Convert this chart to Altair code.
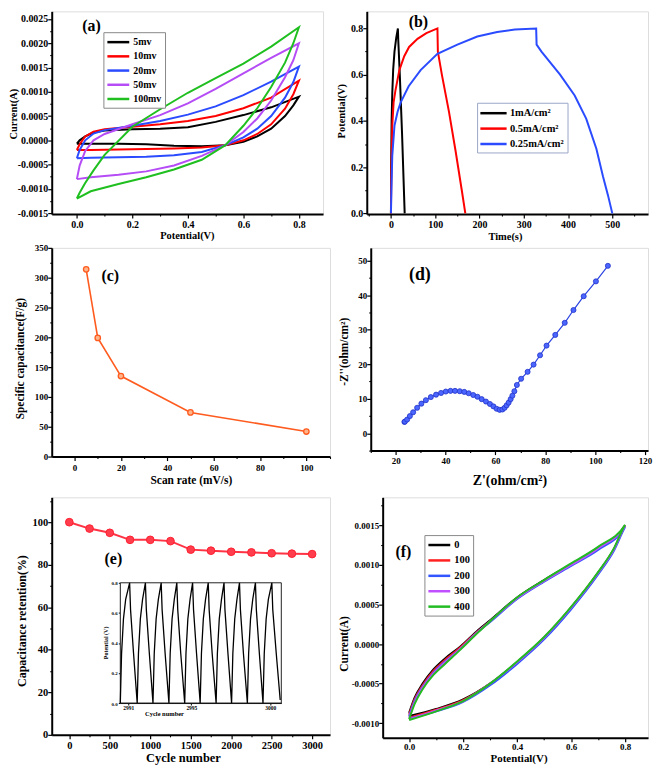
import altair as alt
import pandas as pd

FONT = "Liberation Serif"

# ---------------- (a) CV at different scan rates ----------------
a_rates = ["5mv", "10mv", "20mv", "50mv", "100mv"]
a_colors = ["#000000", "#ff0000", "#2a4bff", "#b54cf5", "#1fbf1f"]
a_v_fwd = [0.0, 0.01, 0.03, 0.06, 0.1, 0.2, 0.3, 0.4, 0.5, 0.6, 0.7, 0.8]
a_v_rev = [0.8, 0.78, 0.75, 0.7, 0.65, 0.6, 0.535, 0.45, 0.35, 0.25, 0.15, 0.05, 0.0]
a_i_fwd = {
    "5mv":   [-0.00007, 0.0, 0.00008, 0.00016, 0.0002, 0.00023, 0.00024, 0.00027, 0.00038, 0.00052, 0.00068, 0.0009],
    "10mv":  [-0.0002, -0.00008, 0.00008, 0.00018, 0.00023, 0.00028, 0.00033, 0.0004, 0.0005, 0.00066, 0.00088, 0.00123],
    "20mv":  [-0.00037, -0.0002, 0.0, 0.00014, 0.00021, 0.0003, 0.0004, 0.00053, 0.0007, 0.00093, 0.00121, 0.00152],
    "50mv":  [-0.0008, -0.00052, -0.00022, 0.0, 0.00013, 0.00033, 0.00052, 0.00076, 0.00106, 0.00138, 0.0017, 0.002],
    "100mv": [-0.0012, -0.00108, -0.00088, -0.00062, -0.0003, 0.00028, 0.00064, 0.00098, 0.00128, 0.00158, 0.00193, 0.00233],
}
a_i_rev = {
    "5mv":   [0.0009, 0.00072, 0.0005, 0.00024, 0.00008, -0.00003, -0.0001, -0.00012, -0.00011, -0.00008, -0.00007, -0.00007, -0.00007],
    "10mv":  [0.00123, 0.00095, 0.00065, 0.00033, 0.00013, 0.0, -0.0001, -0.00015, -0.00017, -0.00018, -0.00019, -0.0002, -0.0002],
    "20mv":  [0.00152, 0.0012, 0.00088, 0.0005, 0.00024, 0.00006, -0.0001, -0.00024, -0.00031, -0.00034, -0.00035, -0.00036, -0.00037],
    "50mv":  [0.002, 0.00165, 0.0013, 0.00082, 0.00045, 0.00017, -0.0001, -0.00032, -0.00052, -0.00064, -0.00071, -0.00076, -0.0008],
    "100mv": [0.00233, 0.002, 0.0016, 0.0011, 0.00066, 0.0003, -0.0001, -0.0004, -0.0006, -0.00076, -0.0009, -0.00105, -0.0012],
}

# ---------------- (b) GCD ----------------
b_names = ["1mA/cm²", "0.5mA/cm²", "0.25mA/cm²"]
b_colors = ["#000000", "#ff0000", "#2a4bff"]
b_t = {
    "1mA/cm²": [0, 0.5, 1.5, 3, 5, 8, 12, 15.7, 16.5, 20, 25, 31],
    "0.5mA/cm²": [0, 1, 3, 6, 10, 14, 19, 30, 41, 60, 80, 105, 106, 115, 131, 146, 160, 168],
    "0.25mA/cm²": [0, 1, 3, 8, 15, 22, 40, 67, 105, 150, 195, 240, 280, 328, 329, 340, 382, 415,
                   441, 464, 479, 490, 500],
}
b_v = {
    "1mA/cm²": [0, 0.2, 0.4, 0.52, 0.62, 0.7, 0.76, 0.8, 0.75, 0.6, 0.35, 0.0],
    "0.5mA/cm²": [0, 0.2, 0.38, 0.48, 0.53, 0.57, 0.62, 0.68, 0.72, 0.755, 0.78, 0.8, 0.7, 0.6, 0.44,
                  0.27, 0.1, 0.0],
    "0.25mA/cm²": [0, 0.1, 0.25, 0.38, 0.44, 0.48, 0.55, 0.62, 0.69, 0.73, 0.765, 0.785, 0.795, 0.8,
                   0.73, 0.7, 0.6, 0.51, 0.41, 0.28, 0.16, 0.08, 0.0],
}

# ---------------- (c) specific capacitance ----------------
c_rate = [5, 10, 20, 50, 100]
c_cap = [314, 199, 135, 74, 42]

# ---------------- (d) Nyquist ----------------
d_zr = [23.5, 23.7, 24.6, 25.7, 27.0, 28.6, 30.3, 32.1, 34.1, 36.2, 38.2, 40.1, 42.0, 43.8, 45.7,
        47.5, 49.3, 51.1, 52.8, 54.5, 56.2, 57.8, 59.2, 60.5, 61.7, 62.8, 63.7, 64.5, 65.3, 66.1,
        66.8, 67.6, 68.6, 70.3, 72.9, 75.3, 77.9, 80.5, 84.0, 87.8, 91.3, 95.4, 100.3, 105.1]
d_zi = [3.3, 3.4, 4.0, 5.0, 6.1, 7.4, 8.6, 9.6, 10.5, 11.2, 11.7, 12.1, 12.3, 12.3, 12.2,
        12.0, 11.6, 11.1, 10.6, 9.9, 9.2, 8.5, 7.8, 7.1, 6.8, 6.9, 7.4, 8.1, 8.9, 9.9,
        10.9, 12.2, 14.0, 15.8, 17.8, 19.9, 22.6, 25.4, 28.5, 32.0, 35.7, 39.7, 44.0, 48.5]

# ---------------- (e) cycling ----------------
e_cycle = [0, 250, 500, 750, 1000, 1250, 1500, 1750, 2000, 2250, 2500, 2750, 3000]
e_ret = [100, 97.0, 95.0, 91.7, 91.7, 91.1, 87.1, 86.6, 86.1, 85.8, 85.4, 85.2, 85.0]
inset_t = [2990.50, 2990.58, 2990.70, 2990.84, 2991.09, 2991.15, 2991.34, 2991.57,
           2991.65, 2991.77, 2991.91, 2992.09, 2992.15, 2992.34, 2992.57,
           2992.65, 2992.77, 2992.91, 2993.09, 2993.15, 2993.34, 2993.58,
           2993.66, 2993.78, 2993.92, 2994.08, 2994.14, 2994.33, 2994.58,
           2994.66, 2994.78, 2994.92, 2995.08, 2995.14, 2995.33, 2995.56,
           2995.64, 2995.76, 2995.90, 2996.07, 2996.13, 2996.32, 2996.57,
           2996.65, 2996.77, 2996.91, 2997.07, 2997.13, 2997.32, 2997.55,
           2997.63, 2997.75, 2997.89, 2998.05, 2998.11, 2998.30, 2998.55,
           2998.63, 2998.75, 2998.89, 2999.06, 2999.12, 2999.31, 2999.54,
           2999.62, 2999.74, 2999.88, 3000.10, 3000.16, 3000.38, 3000.63]
inset_v = [0.0, 0.33, 0.56, 0.69, 0.8, 0.62, 0.33, 0.0,
           0.33, 0.56, 0.69, 0.8, 0.62, 0.33, 0.0,
           0.33, 0.56, 0.69, 0.8, 0.62, 0.33, 0.0,
           0.33, 0.56, 0.69, 0.8, 0.62, 0.33, 0.0,
           0.33, 0.56, 0.69, 0.8, 0.62, 0.33, 0.0,
           0.33, 0.56, 0.69, 0.8, 0.62, 0.33, 0.0,
           0.33, 0.56, 0.69, 0.8, 0.62, 0.33, 0.0,
           0.33, 0.56, 0.69, 0.8, 0.62, 0.33, 0.0,
           0.33, 0.56, 0.69, 0.8, 0.62, 0.33, 0.0,
           0.33, 0.56, 0.69, 0.8, 0.62, 0.33, 0.02]
inset_ticks = [2991, 2995, 3000]

# ---------------- (f) CV after cycling ----------------
f_names = ["0", "100", "200", "300", "400"]
f_colors = ["#000000", "#ff2020", "#3355ff", "#c050ff", "#22bb22"]
f_v_fwd = [0.0, 0.02, 0.05, 0.09, 0.13, 0.19, 0.25, 0.3, 0.4, 0.5, 0.6, 0.7, 0.8]
f_v_rev = [0.8, 0.76, 0.7, 0.6, 0.5, 0.4, 0.3, 0.2, 0.1, 0.0]
f_i_fwd = {
    "0":   [-0.00087, -0.00068, -0.0005, -0.00032, -0.00019, -0.00003, 0.00016, 0.0003, 0.00059, 0.00081, 0.00101, 0.00122, 0.0015],
    "100": [-0.00089, -0.0007, -0.00052, -0.00034, -0.00021, -0.00004, 0.00015, 0.00029, 0.00058, 0.0008, 0.001, 0.00121, 0.0015],
    "200": [-0.00091, -0.00072, -0.00054, -0.00036, -0.00023, -0.00006, 0.00014, 0.00028, 0.00057, 0.00079, 0.00099, 0.00119, 0.00148],
    "300": [-0.00093, -0.00074, -0.00055, -0.00037, -0.00024, -0.00006, 0.00014, 0.00029, 0.00058, 0.0008, 0.001, 0.00121, 0.0015],
    "400": [-0.00095, -0.00076, -0.00057, -0.00039, -0.00026, -0.00007, 0.00013, 0.00029, 0.00059, 0.00081, 0.00102, 0.00123, 0.00151],
}
f_i_rev = {
    "0":   [0.0015, 0.00121, 0.0009, 0.00046, 0.00008, -0.00023, -0.0005, -0.0007, -0.00082, -0.00091],
    "100": [0.0015, 0.00121, 0.0009, 0.00046, 0.00008, -0.00023, -0.0005, -0.00071, -0.00083, -0.00093],
    "200": [0.00148, 0.00119, 0.00088, 0.00044, 0.00006, -0.00025, -0.00052, -0.00073, -0.00085, -0.00094],
    "300": [0.0015, 0.00121, 0.0009, 0.00046, 0.00008, -0.00023, -0.0005, -0.00072, -0.00084, -0.00095],
    "400": [0.00151, 0.00122, 0.00091, 0.00047, 0.00009, -0.00022, -0.0005, -0.00072, -0.00085, -0.00096],
}


# ---------------- helpers ----------------
def loop_df(names, v_fwd, v_rev, i_fwd, i_rev, key):
    rows = []
    for n in names:
        k = 0
        for v, i in zip(v_fwd, i_fwd[n]):
            rows.append({key: n, "V": v, "I": i, "idx": k}); k += 1
        for v, i in zip(v_rev, i_rev[n]):
            rows.append({key: n, "V": v, "I": i, "idx": k}); k += 1
    return pd.DataFrame(rows)


def frange(start, stop, step):
    out, k = [], 0
    while start + k * step <= stop + 1e-12:
        out.append(round(start + k * step, 8)); k += 1
    return out


def major_axis(major, fmt, title, lsize, tsize, tx, ty, orient, lpad=1):
    return alt.Axis(
        orient=orient, values=major, title=title,
        labelExpr=f"replace(format(datum.value, '{fmt}'), '\u2212', '-')",
        tickSize=4, labelOverlap=False, labelFlush=False, labelPadding=lpad,
        labelFont=FONT, labelFontWeight="bold", labelFontSize=lsize, labelColor="black",
        titleFont=FONT, titleFontWeight="bold", titleFontSize=tsize, titleColor="black",
        titleX=tx, titleY=ty, titleBaseline="middle", titleAlign="center",
        domainColor="black", domainWidth=2, tickColor="black", tickWidth=1.2, grid=False)


def minor_axis(major, minor, domain, orient):
    lo, hi = domain
    vals = [v for v in minor if lo - 1e-12 <= v <= hi + 1e-12
            and all(abs(v - m) > 1e-9 for m in major)]
    return alt.Axis(orient=orient, values=vals, labels=False, title=None, domain=False,
                    tickSize=2, tickColor="black", tickWidth=1.1, grid=False)


def sc(domain):
    return alt.Scale(domain=domain, nice=False, zero=False)


def legend(x, y, size, fs, path, rowpad=2, stroke="#888", sym_off=5, lab_off=8):
    return alt.Legend(title=None, orient="none", legendX=x, legendY=y, direction="vertical",
                      symbolType=path, symbolSize=size, symbolStrokeWidth=2.5,
                      symbolOffset=sym_off,
                      labelFont=FONT, labelFontWeight="bold", labelFontSize=fs, labelColor="black",
                      strokeColor=stroke, fillColor="white", padding=3, rowPadding=rowpad,
                      labelOffset=lab_off)


def tag(text, x, y, size=16):
    return alt.Chart(pd.DataFrame({"t": [text]})).mark_text(
        font=FONT, fontWeight="bold", fontSize=size, color="black").encode(
        x=alt.X(datum=x, axis=None), y=alt.Y(datum=y, axis=None), text="t:N")


def minor_layer(df, xf, yf, xdom, ydom, xmajor, xminor, ymajor, yminor):
    return alt.Chart(df).mark_point(opacity=0).encode(
        x=alt.X(xf, scale=sc(xdom), axis=minor_axis(xmajor, xminor, xdom, "bottom")),
        y=alt.Y(yf, scale=sc(ydom), axis=minor_axis(ymajor, yminor, ydom, "left")))


# ---------------- panel (a) ----------------
a_dx, a_dy = [-0.0906, 0.887], [-0.00152, 0.002658]
a_xmaj, a_xmin = frange(0, 0.8, 0.2), frange(-0.1, 0.9, 0.1)
a_ymaj, a_ymin = frange(-0.0015, 0.0025, 0.0005), frange(-0.0015, 0.0025, 0.00025)
a_df = loop_df(a_rates, a_v_fwd, a_v_rev, a_i_fwd, a_i_rev, "rate")
pa = alt.layer(
    alt.Chart(a_df).mark_line(strokeWidth=2).encode(
        x=alt.X("V:Q", scale=sc(a_dx),
                axis=major_axis(a_xmaj, ".1f", "Potential(V)", 10, 10.5, 136, 22, "bottom", 2)),
        y=alt.Y("I:Q", scale=sc(a_dy),
                axis=major_axis(a_ymaj, ".4f", "Current(A)", 10, 10.5, -38.5, 103, "left", 0)),
        color=alt.Color("rate:N", scale=alt.Scale(domain=a_rates, range=a_colors),
                        legend=legend(52, 21, 121, 10, "M-2,0L2,0", 2.3)),
        order="idx:Q"),
    minor_layer(a_df, "V:Q", "I:Q", a_dx, a_dy, a_xmaj, a_xmin, a_ymaj, a_ymin),
    tag("(a)", 0.053, 0.00235),
).resolve_axis(x="independent", y="independent").properties(width=273, height=204)

# ---------------- panel (b) ----------------
b_dx, b_dy = [-54.6, 580.7], [-0.003, 0.874]
b_xmaj, b_xmin = frange(0, 500, 100), frange(-50, 550, 50)
b_ymaj, b_ymin = frange(0, 0.8, 0.2), frange(0, 0.8, 0.1)
b_df = pd.DataFrame([{"cur": n, "t": t, "v": v, "idx": k}
                     for n in b_names for k, (t, v) in enumerate(zip(b_t[n], b_v[n]))])
pb = alt.layer(
    alt.Chart(b_df).mark_line(strokeWidth=2).encode(
        x=alt.X("t:Q", scale=sc(b_dx),
                axis=major_axis(b_xmaj, "d", "Time(s)", 10, 10.5, 139, 23, "bottom", 2)),
        y=alt.Y("v:Q", scale=sc(b_dy),
                axis=major_axis(b_ymaj, ".1f", "Potential(V)", 10, 10.5, -25, 100, "left", 0)),
        color=alt.Color("cur:N", scale=alt.Scale(domain=b_names, range=b_colors),
                        legend=legend(111, 92, 144, 10.5, "M-2.2,0L2.2,0", 2.5, "#9aa6c8", 6, 9)),
        order="idx:Q"),
    minor_layer(b_df, "t:Q", "v:Q", b_dx, b_dy, b_xmaj, b_xmin, b_ymaj, b_ymin),
    tag("(b)", 62, 0.827),
).resolve_axis(x="independent", y="independent").properties(width=283, height=204)

# ---------------- panel (c) ----------------
c_dx, c_dy = [-9.86, 110.2], [0, 350]
c_xmaj, c_xmin = frange(0, 100, 20), frange(0, 110, 10)
c_ymaj, c_ymin = frange(0, 350, 50), frange(0, 350, 25)
c_df = pd.DataFrame({"rate": c_rate, "cap": c_cap})
pc = alt.layer(
    alt.Chart(c_df).mark_line(color="#ff5b1f", strokeWidth=1.6).encode(
        x=alt.X("rate:Q", scale=sc(c_dx),
                axis=major_axis(c_xmaj, "d", "Scan rate (mV/s)", 9, 11.5, 140, 24, "bottom", 3)),
        y=alt.Y("cap:Q", scale=sc(c_dy),
                axis=major_axis(c_ymaj, "d", "Specific capacitance(F/g)", 9, 11.5, -31, 111,
                                "left", 0))),
    alt.Chart(c_df).mark_point(shape="circle", filled=True, size=30, fill="#ffb48a",
                               stroke="#ff5b1f", strokeWidth=1.3, opacity=1).encode(
        x=alt.X("rate:Q", scale=sc(c_dx), axis=None),
        y=alt.Y("cap:Q", scale=sc(c_dy), axis=None)),
    minor_layer(c_df, "rate:Q", "cap:Q", c_dx, c_dy, c_xmaj, c_xmin, c_ymaj, c_ymin),
    tag("(c)", 15.4, 302),
).resolve_axis(x="independent", y="independent").properties(width=280, height=210)

# ---------------- panel (d) ----------------
d_dx, d_dy = [10.0, 121.2], [-5.0, 53.7]
d_xmaj, d_xmin = frange(20, 120, 20), frange(10, 120, 10)
d_ymaj, d_ymin = frange(0, 50, 10), frange(-5, 50, 5)
d_df = pd.DataFrame({"zr": d_zr, "zi": d_zi, "idx": list(range(len(d_zr)))})
pd_ = alt.layer(
    alt.Chart(d_df).mark_line(color="#2b43e0", strokeWidth=1.2).encode(
        x=alt.X("zr:Q", scale=sc(d_dx),
                axis=major_axis(d_xmaj, "d", "Z'(ohm/cm²)", 9, 14, 139.5, 30, "bottom", 2)),
        y=alt.Y("zi:Q", scale=sc(d_dy),
                axis=major_axis(d_ymaj, "d", "-Z''(ohm/cm²)", 9, 11.5, -26, 104, "left", 0)),
        order="idx:Q"),
    alt.Chart(d_df).mark_point(shape="circle", filled=True, size=26, fill="#4a66ff",
                               stroke="#2233c8", strokeWidth=0.8, opacity=1).encode(
        x=alt.X("zr:Q", scale=sc(d_dx), axis=None),
        y=alt.Y("zi:Q", scale=sc(d_dy), axis=None)),
    minor_layer(d_df, "zr:Q", "zi:Q", d_dx, d_dy, d_xmaj, d_xmin, d_ymaj, d_ymin),
    tag("(d)", 29.7, 45.7, 18),
).resolve_axis(x="independent", y="independent").properties(width=279, height=204)

# ---------------- panel (e) ----------------
e_dx, e_dy = [-217.4, 3221], [0, 111.7]
e_xmaj, e_xmin = frange(0, 3000, 500), frange(-250, 3250, 250)
e_ymaj, e_ymin = frange(0, 100, 20), frange(0, 110, 10)
e_df = pd.DataFrame({"cyc": e_cycle, "ret": e_ret})
e_main = alt.layer(
    alt.Chart(e_df).mark_line(color="#ff3344", strokeWidth=2).encode(
        x=alt.X("cyc:Q", scale=sc(e_dx),
                axis=major_axis(e_xmaj, "d", "Cycle number", 10.5, 12.5, 132, 23, "bottom", 2)),
        y=alt.Y("ret:Q", scale=sc(e_dy),
                axis=major_axis(e_ymaj, "d", "Capacitance retention(%)", 10.5, 12, -30, 124,
                                "left", 0))),
    alt.Chart(e_df).mark_point(shape="circle", filled=True, size=60, fill="#ff3d4d",
                               stroke="#ff1f2f", strokeWidth=1, opacity=1).encode(
        x=alt.X("cyc:Q", scale=sc(e_dx), axis=None),
        y=alt.Y("ret:Q", scale=sc(e_dy), axis=None)),
    minor_layer(e_df, "cyc:Q", "ret:Q", e_dx, e_dy, e_xmaj, e_xmin, e_ymaj, e_ymin),
    tag("(e)", 544, 82.7),
).resolve_axis(x="independent", y="independent")

in_dx, in_dy = [2990.5, 3000.7], [0, 0.8]
i_xs = alt.Scale(domain=in_dx, range=[69, 231], nice=False, zero=False)
i_ys = alt.Scale(domain=in_dy, range=[207, 86], nice=False, zero=False)
in_df = pd.DataFrame({"t": inset_t, "v": inset_v, "idx": list(range(len(inset_t)))})
i_xaxis = alt.Axis(orient="bottom", offset=-32, values=inset_ticks, format="d", title="Cycle number",
                   labelFont=FONT, labelFontWeight="bold", labelFontSize=5.5, labelColor="black",
                   labelPadding=0, tickSize=2, tickColor="black", domainColor="black", domainWidth=1,
                   titleFont=FONT, titleFontWeight="bold", titleFontSize=6.5, titleColor="black",
                   titleX=113, titleY=11, titleBaseline="middle", labelFlush=False, grid=False)
i_yaxis = alt.Axis(orient="left", offset=-69, values=[0, 0.2, 0.4, 0.6, 0.8], format=".1f",
                   title="Potential (V)",
                   labelFont=FONT, labelFontWeight="bold", labelFontSize=5, labelColor="black",
                   labelPadding=1, tickSize=2, tickColor="black", domainColor="black", domainWidth=1,
                   titleFont=FONT, titleFontWeight="bold", titleFontSize=6, titleColor="black",
                   titleX=-15, titleY=146, titleBaseline="middle", grid=False)
e_inset = alt.layer(
    alt.Chart(pd.DataFrame({"k": [0]})).mark_rect(fill="white", stroke="#222", strokeWidth=1).encode(
        x=alt.datum(in_dx[0]), x2=alt.datum(in_dx[1]), y=alt.datum(in_dy[0]), y2=alt.datum(in_dy[1])),
    alt.Chart(in_df).mark_line(color="black", strokeWidth=1.3).encode(
        x=alt.X("t:Q", scale=i_xs, axis=i_xaxis),
        y=alt.Y("v:Q", scale=i_ys, axis=i_yaxis),
        order="idx:Q"),
)
pe = alt.layer(e_inset, e_main).resolve_scale(x="independent", y="independent").properties(
    width=280, height=239)

# ---------------- panel (f) ----------------
f_dx, f_dy = [-0.098, 0.885], [-0.001185, 0.001856]
f_xmaj, f_xmin = frange(0, 0.8, 0.2), frange(0, 0.8, 0.1)
f_ymaj, f_ymin = frange(-0.001, 0.0015, 0.0005), frange(-0.001, 0.00175, 0.00025)
f_df = loop_df(f_names, f_v_fwd, f_v_rev, f_i_fwd, f_i_rev, "cyc")
pf = alt.layer(
    alt.Chart(f_df).mark_line(strokeWidth=2, interpolate="monotone").encode(
        x=alt.X("V:Q", scale=sc(f_dx),
                axis=major_axis(f_xmaj, ".1f", "Potential(V)", 9, 11, 136.7, 21, "bottom", 1)),
        y=alt.Y("I:Q", scale=sc(f_dy),
                axis=major_axis(f_ymaj, ".4f", "Current(A)", 9, 11.5, -38, 147, "left", 0)),
        color=alt.Color("cyc:N", scale=alt.Scale(domain=f_names, range=f_colors),
                        legend=legend(42, 38, 121, 10.5, "M-2,0L2,0", 2.5)),
        order="idx:Q"),
    minor_layer(f_df, "V:Q", "I:Q", f_dx, f_dy, f_xmaj, f_xmin, f_ymaj, f_ymin),
    tag("(f)", -0.021, 0.001165),
).resolve_axis(x="independent", y="independent").properties(width=267, height=242)

row1 = alt.hconcat(pa, pb, spacing=44, bounds="flush").resolve_scale(color="independent")
row2 = alt.hconcat(pc, pd_, spacing=41, bounds="flush").resolve_scale(color="independent")
row3 = alt.hconcat(pe, pf, spacing=53, bounds="flush").resolve_scale(color="independent")

lower = alt.vconcat(row2, row3, spacing=8).resolve_scale(color="independent")
chart = alt.vconcat(row1, lower, spacing=0).resolve_scale(
    color="independent").properties(
    padding={"left": 0, "top": 0, "right": 0, "bottom": 0}
).configure_view(stroke="#555", strokeWidth=1).configure(background="white")

chart.save("out.html", embed_options={"renderer": "svg", "actions": False})
